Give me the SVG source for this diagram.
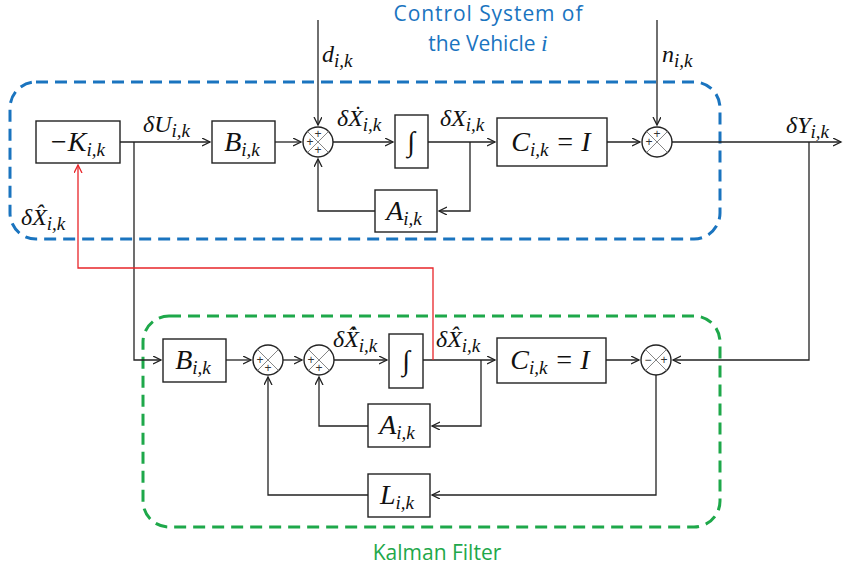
<svg xmlns="http://www.w3.org/2000/svg" width="844" height="571" viewBox="0 0 844 571">
<style>
.box{fill:#fff;stroke:#222;stroke-width:1.4}
.ln{fill:none;stroke:#222;stroke-width:1.3}
.red{fill:none;stroke:#e8262a;stroke-width:1.3}
.sum{fill:#fff;stroke:#222;stroke-width:1.4}
.x{stroke:#777;stroke-width:0.9}
.m{font-family:"Liberation Serif","DejaVu Serif",serif;font-style:italic;font-size:28px;fill:#111}
.e{font-family:"Liberation Serif","DejaVu Serif",serif;font-style:italic;font-size:24px;fill:#111}
.s{font-size:19px}
.sg{font-family:"Liberation Sans",sans-serif;font-size:12px;fill:#333}
.ttl{font-family:"Open Sans","Liberation Sans",sans-serif;font-size:21px}
</style>
<defs>
<marker id="a" markerWidth="10" markerHeight="10" refX="8" refY="4" orient="auto" markerUnits="userSpaceOnUse">
<path d="M0,0 L8,4 L0,8" fill="none" stroke="#222" stroke-width="1.3"/>
</marker>
<marker id="ar" markerWidth="10" markerHeight="10" refX="8" refY="4" orient="auto" markerUnits="userSpaceOnUse">
<path d="M0,0 L8,4 L0,8" fill="none" stroke="#e8262a" stroke-width="1.3"/>
</marker>
</defs>

<g id="control-system-frame">
<rect x="10" y="82" width="710" height="157" rx="26" fill="none" stroke="#1a74bf" stroke-width="3" stroke-dasharray="12,7"/>
<text class="ttl" x="488" y="21" text-anchor="middle" fill="#1a74bf" textLength="189" lengthAdjust="spacing">Control System of</text>
<text class="ttl" x="488" y="51" text-anchor="middle" fill="#1a74bf">the Vehicle <tspan font-family="Liberation Serif,serif" font-style="italic" font-size="24">i</tspan></text>
</g>
<g id="kalman-frame">
<rect x="143" y="316" width="577" height="211" rx="26" fill="none" stroke="#1ea84a" stroke-width="3" stroke-dasharray="12,7"/>
<text class="ttl" x="437" y="560" text-anchor="middle" fill="#1ea84a">Kalman Filter</text>
</g>

<g id="connectors">
<polyline class="ln" points="120,142 210,142" marker-end="url(#a)"/>
<polyline class="ln" points="134,142 134,360 161,360" marker-end="url(#a)"/>
<polyline class="ln" points="275,142 301,142" marker-end="url(#a)"/>
<polyline class="ln" points="318,20 318,125" marker-end="url(#a)"/>
<polyline class="ln" points="333,142 393,142" marker-end="url(#a)"/>
<polyline class="ln" points="428,142 495,142" marker-end="url(#a)"/>
<polyline class="ln" points="470,142 470,211 439,211" marker-end="url(#a)"/>
<polyline class="ln" points="375,211 318,211 318,159" marker-end="url(#a)"/>
<polyline class="ln" points="607,142 640,142" marker-end="url(#a)"/>
<polyline class="ln" points="657,20 657,125" marker-end="url(#a)"/>
<polyline class="ln" points="672,142 841,142" marker-end="url(#a)"/>
<polyline class="ln" points="809,142 809,360 673,360" marker-end="url(#a)"/>
<polyline class="ln" points="226,360 251,360" marker-end="url(#a)"/>
<polyline class="ln" points="283,360 302,360" marker-end="url(#a)"/>
<polyline class="ln" points="334,360 387,360" marker-end="url(#a)"/>
<polyline class="ln" points="423,360 495,360" marker-end="url(#a)"/>
<polyline class="ln" points="481,360 481,426 432,426" marker-end="url(#a)"/>
<polyline class="ln" points="368,426 319,426 319,377" marker-end="url(#a)"/>
<polyline class="ln" points="606,360 639,360" marker-end="url(#a)"/>
<polyline class="ln" points="656,375 656,495 432,495" marker-end="url(#a)"/>
<polyline class="ln" points="368,495 268,495 268,377" marker-end="url(#a)"/>
<polyline class="red" points="433,360 433,268 78,268 78,165" marker-end="url(#ar)"/>
</g>

<g id="edge-labels">
<text class="e" x="143" y="132">δU<tspan class="s" dy="5">i,k</tspan></text>
<text class="e" x="322" y="62">d<tspan class="s" dy="5">i,k</tspan></text>
<text class="e" x="337" y="126">δẊ<tspan class="s" dy="5">i,k</tspan></text>
<text class="e" x="440" y="126">δX<tspan class="s" dy="5">i,k</tspan></text>
<text class="e" x="662" y="62">n<tspan class="s" dy="5">i,k</tspan></text>
<text class="e" x="786" y="133">δY<tspan class="s" dy="5">i,k</tspan></text>
<text class="e" x="21" y="225">δX̂<tspan class="s" dy="5">i,k</tspan></text>
<text class="e" x="333" y="347">δX̂̇<tspan class="s" dy="5">i,k</tspan></text>
<text class="e" x="436" y="347">δX̂<tspan class="s" dy="5">i,k</tspan></text>
</g>

<g id="neg-K">
<rect class="box" x="36" y="121" width="84" height="42"/>
<text class="m" x="77" y="151" text-anchor="middle">−K<tspan class="s" dy="5">i,k</tspan></text>
</g>
<g id="B-top">
<rect class="box" x="212" y="121" width="63" height="42"/>
<text class="m" x="242" y="151" text-anchor="middle">B<tspan class="s" dy="5">i,k</tspan></text>
</g>
<g id="sum-top-1">
<circle class="sum" cx="318" cy="142" r="15"/>
<line class="x" x1="307.4" y1="131.4" x2="328.6" y2="152.6"/>
<line class="x" x1="328.6" y1="131.4" x2="307.4" y2="152.6"/>
<text class="sg" x="318" y="138" text-anchor="middle">+</text>
<text class="sg" x="310" y="146" text-anchor="middle">+</text>
<text class="sg" x="318" y="154" text-anchor="middle">+</text>
</g>
<g id="int-top">
<rect class="box" x="395" y="115" width="33" height="53"/>
<text class="m" x="411" y="151" text-anchor="middle">∫</text>
</g>
<g id="A-top">
<rect class="box" x="375" y="190" width="62" height="42"/>
<text class="m" x="404" y="220" text-anchor="middle">A<tspan class="s" dy="5">i,k</tspan></text>
</g>
<g id="C-top">
<rect class="box" x="497" y="118" width="110" height="48"/>
<text class="m" x="551" y="151" text-anchor="middle">C<tspan class="s" dy="5">i,k</tspan><tspan dy="-5"> = I</tspan></text>
</g>
<g id="sum-top-2">
<circle class="sum" cx="657" cy="142" r="15"/>
<line class="x" x1="646.4" y1="131.4" x2="667.6" y2="152.6"/>
<line class="x" x1="667.6" y1="131.4" x2="646.4" y2="152.6"/>
<text class="sg" x="657" y="138" text-anchor="middle">+</text>
<text class="sg" x="649" y="146" text-anchor="middle">+</text>
</g>

<g id="B-low">
<rect class="box" x="163" y="339" width="63" height="43"/>
<text class="m" x="193" y="369" text-anchor="middle">B<tspan class="s" dy="5">i,k</tspan></text>
</g>
<g id="sum-low-1">
<circle class="sum" cx="268" cy="360" r="15"/>
<line class="x" x1="257.4" y1="349.4" x2="278.6" y2="370.6"/>
<line class="x" x1="278.6" y1="349.4" x2="257.4" y2="370.6"/>
<text class="sg" x="260" y="364" text-anchor="middle">+</text>
<text class="sg" x="268" y="372" text-anchor="middle">+</text>
</g>
<g id="sum-low-2">
<circle class="sum" cx="319" cy="360" r="15"/>
<line class="x" x1="308.4" y1="349.4" x2="329.6" y2="370.6"/>
<line class="x" x1="329.6" y1="349.4" x2="308.4" y2="370.6"/>
<text class="sg" x="311" y="364" text-anchor="middle">+</text>
<text class="sg" x="319" y="372" text-anchor="middle">+</text>
</g>
<g id="int-low">
<rect class="box" x="389" y="334" width="34" height="54"/>
<text class="m" x="406" y="370" text-anchor="middle">∫</text>
</g>
<g id="A-low">
<rect class="box" x="368" y="404" width="62" height="43"/>
<text class="m" x="397" y="434" text-anchor="middle">A<tspan class="s" dy="5">i,k</tspan></text>
</g>
<g id="C-low">
<rect class="box" x="497" y="338" width="109" height="45"/>
<text class="m" x="550" y="369" text-anchor="middle">C<tspan class="s" dy="5">i,k</tspan><tspan dy="-5"> = I</tspan></text>
</g>
<g id="sum-low-3">
<circle class="sum" cx="656" cy="360" r="15"/>
<line class="x" x1="645.4" y1="349.4" x2="666.6" y2="370.6"/>
<line class="x" x1="666.6" y1="349.4" x2="645.4" y2="370.6"/>
<text class="sg" x="648" y="364" text-anchor="middle">−</text>
<text class="sg" x="664" y="364" text-anchor="middle">+</text>
</g>
<g id="L-low">
<rect class="box" x="368" y="474" width="62" height="43"/>
<text class="m" x="397" y="504" text-anchor="middle">L<tspan class="s" dy="5">i,k</tspan></text>
</g>
</svg>
